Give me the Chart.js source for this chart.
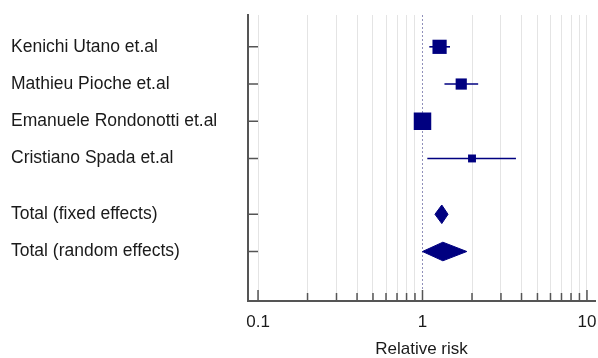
<!DOCTYPE html>
<html>
<head>
<meta charset="utf-8">
<script src="https://cdn.jsdelivr.net/npm/chart.js@4/dist/chart.umd.min.js"></script>
<style>
  html, body { margin: 0; padding: 0; background: #fff; }
  #wrap { width: 598px; height: 358px; }
</style>
</head>
<body>
<div id="wrap"><canvas id="forest"></canvas></div>
<script>
// studies, top to bottom
const studies = ['Kenichi Utano et.al', 'Mathieu Pioche et.al', 'Emanuele Rondonotti et.al', 'Cristiano Spada et.al'];
const studyRows = [1, 2, 3, 4];
const studyRR = [1.27, 1.72, 1.00, 2.00];
const studyLow = [1.10, 1.36, 0.96, 1.07];
const studyHigh = [1.47, 2.18, 1.04, 3.70];
const studyWeight = [29, 18, 44, 9]; // % weight, sets box size

// pooled estimates
const totals = ['Total (fixed effects)', 'Total (random effects)'];
const totalRows = [5.5, 6.5];
const totalRR = [1.31, 1.33];
const totalLow = [1.19, 1.00];
const totalHigh = [1.43, 1.86];

// x axis
const xMin = 0.0869;
const xMax = 11.19;
const xTicks = [0.1, 0.2, 0.3, 0.4, 0.5, 0.6, 0.7, 0.8, 0.9, 1, 2, 3, 4, 5, 6, 7, 8, 9, 10];
const xLabels = [0.1, 1, 10];

const NAVY = '#000080';
const AXIS = '#555555';
const FONT = 'Liberation Sans, Arial, sans-serif';

const rowLabel = {};
studies.forEach((s, i) => rowLabel[studyRows[i]] = s);
totals.forEach((s, i) => rowLabel[totalRows[i]] = s);
const allRows = studyRows.concat(totalRows);

const datasets = [];

// confidence interval lines
studies.forEach((s, i) => {
    datasets.push({
        data: [{ x: studyLow[i], y: studyRows[i] }, { x: studyHigh[i], y: studyRows[i] }],
        showLine: true,
        borderColor: NAVY,
        borderWidth: 1.6,
        pointRadius: 0
    });
});

// weighted boxes
datasets.push({
    data: studies.map((s, i) => ({ x: studyRR[i], y: studyRows[i] })),
    pointStyle: 'rect',
    pointRadius: studyWeight.map(w => 17.5 * Math.sqrt(w / 44) / 1.414),
    backgroundColor: NAVY,
    borderColor: NAVY,
    borderWidth: 0
});

// diamonds for pooled estimates
const DH = 0.25;
totals.forEach((s, i) => {
    const r = totalRows[i];
    datasets.push({
        data: [
            { x: totalLow[i], y: r },
            { x: totalRR[i], y: r - DH },
            { x: totalHigh[i], y: r },
            { x: totalRR[i], y: r + DH },
            { x: totalLow[i], y: r }
        ],
        showLine: true,
        fill: 'shape',
        backgroundColor: NAVY,
        borderColor: NAVY,
        borderWidth: 1,
        pointRadius: 0,
        tension: 0
    });
});

// inner tick marks on both axes
const innerTicks = {
    id: 'innerTicks',
    afterDraw(chart) {
        const { ctx, scales: { x, y }, chartArea } = chart;
        ctx.save();
        ctx.strokeStyle = AXIS;
        ctx.lineWidth = 1.5;
        ctx.beginPath();
        xTicks.forEach(v => {
            const px = x.getPixelForValue(v);
            const len = xLabels.includes(v) ? 11 : 8;
            ctx.moveTo(px, chartArea.bottom);
            ctx.lineTo(px, chartArea.bottom - len);
        });
        allRows.forEach(v => {
            const py = y.getPixelForValue(v);
            ctx.moveTo(chartArea.left, py);
            ctx.lineTo(chartArea.left + 10, py);
        });
        ctx.stroke();
        ctx.restore();
    }
};

new Chart(document.getElementById('forest'), {
    type: 'scatter',
    data: { datasets },
    options: {
        responsive: true,
        maintainAspectRatio: false,
        animation: false,
        events: [],
        layout: {
            autoPadding: false, // big boxes would otherwise shrink the plot
            padding: { left: 11, top: 15, right: 3, bottom: 0 }
        },
        plugins: {
            legend: { display: false },
            tooltip: { enabled: false }
        },
        scales: {
            x: {
                type: 'logarithmic',
                min: xMin,
                max: xMax,
                // blank end ticks keep the "0.1"/"10" labels from padding the axis
                afterBuildTicks: scale => {
                    scale.ticks = [xMin].concat(xTicks, [xMax]).map(v => ({ value: v }));
                },
                afterFit: scale => {
                    scale.height = 57;
                    scale.paddingLeft = 0;
                    scale.paddingRight = 0;
                },
                ticks: {
                    autoSkip: false,
                    maxRotation: 0,
                    padding: 11,
                    color: '#1a1a1a',
                    font: { family: FONT, size: 17 },
                    callback: v => xLabels.includes(v) ? String(v) : ''
                },
                grid: {
                    drawTicks: false,
                    lineWidth: 1,
                    color: ctx => {
                        if (!ctx.tick || !xTicks.includes(ctx.tick.value)) return 'rgba(0,0,0,0)';
                        return ctx.tick.value === 1 ? '#9090bb' : '#e4e4e4';
                    }
                },
                border: {
                    display: true,
                    color: AXIS,
                    width: 2,
                    dash: ctx => ctx.tick && ctx.tick.value === 1 ? [2, 2] : []
                },
                title: {
                    display: true,
                    text: 'Relative risk',
                    color: '#1a1a1a',
                    font: { family: FONT, size: 17, lineHeight: 1 },
                    padding: { top: 0, bottom: 0 }
                }
            },
            y: {
                type: 'linear',
                reverse: true,
                min: 0.145,
                max: 7.83,
                afterBuildTicks: scale => {
                    scale.ticks = allRows.map(v => ({ value: v }));
                },
                afterFit: scale => {
                    scale.width = 237;
                    scale.paddingTop = 0;
                    scale.paddingBottom = 0;
                },
                ticks: {
                    autoSkip: false,
                    crossAlign: 'far',
                    color: '#1a1a1a',
                    font: { family: FONT, size: 17.5 },
                    callback: v => rowLabel[v] || ''
                },
                grid: { display: false, drawTicks: false },
                border: { display: true, color: AXIS, width: 2 }
            }
        }
    },
    plugins: [innerTicks]
});
</script>
</body>
</html>
